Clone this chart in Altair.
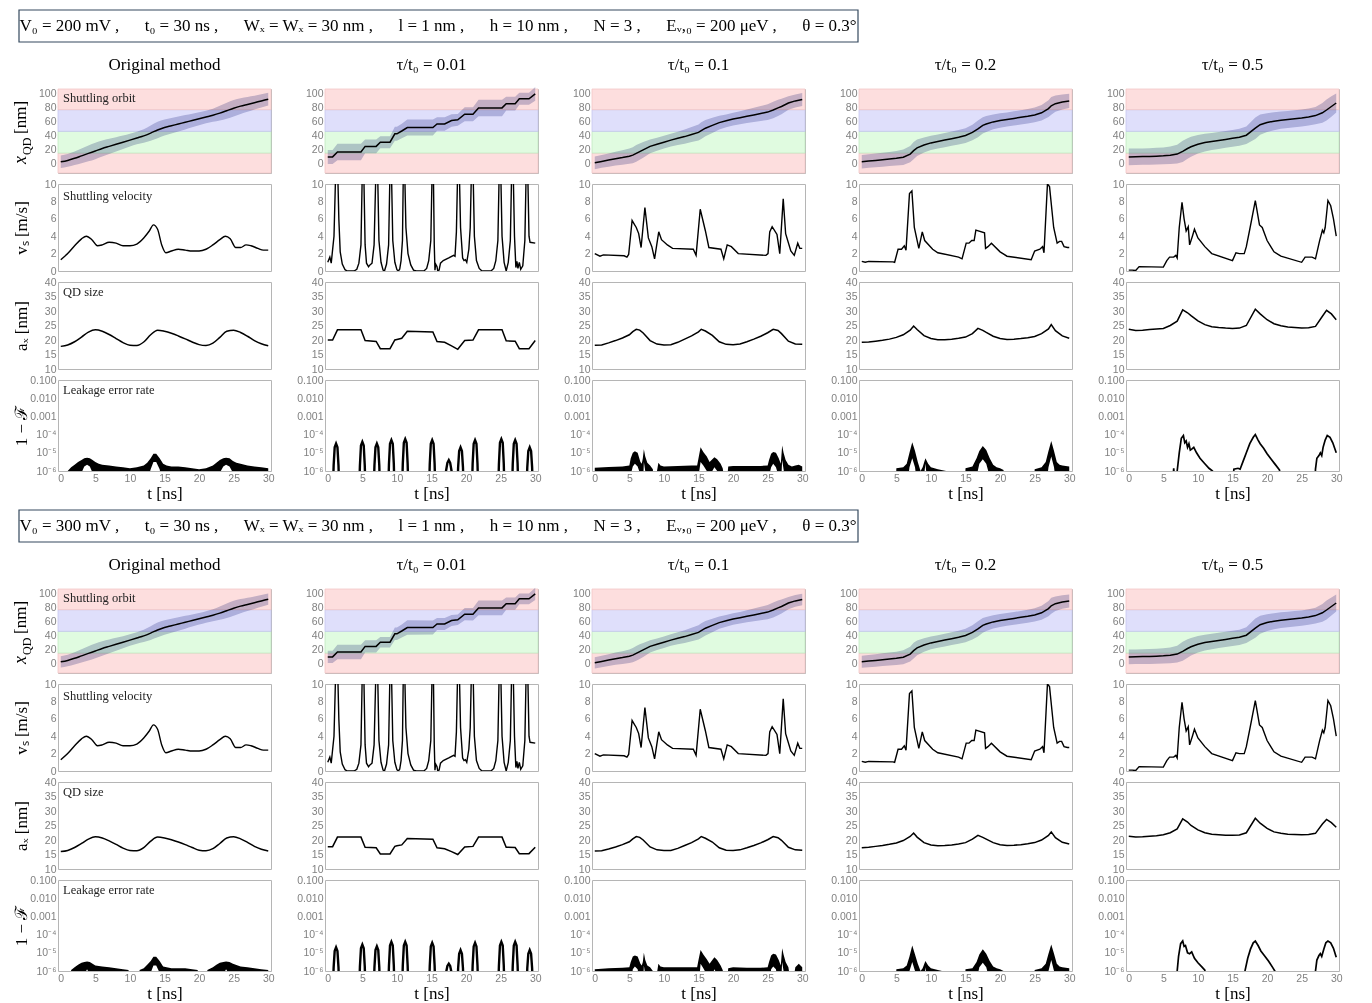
import altair as alt
import pandas as pd

SERIF = "Liberation Serif"
SANS = "Liberation Sans"
W = 213
H_ORB, H_VEL, H_QD, H_LK = 84, 87, 87, 91
T_DOM = [-0.4, 30.4]
T_TICKS = [0, 5, 10, 15, 20, 25, 30]

COL_TITLES = ["Original method", "τ/t₀ = 0.01", "τ/t₀ = 0.1", "τ/t₀ = 0.2", "τ/t₀ = 0.5"]
V0_VALUES = [200, 300]
SEP = " ,\u2003\u2002"

# dot regions of the shuttling orbit panel
REG_LO = [-13, 15.5, 46.5, 77.5]
REG_HI = [15.5, 46.5, 77.5, 107]
REG_FILL = ["#fddede", "#e0fbe0", "#dfdffb", "#fddede"]
REG_EDGE = ["#f2c6c6", "#c2eac2", "#c6c6f0", "#f2c6c6"]

# ---------------- column 1 : original method ----------------
T_C1 = [0, 1, 2, 3, 4, 5, 6, 7, 8, 9, 10, 11, 12, 13, 14, 15, 16, 17, 18, 19, 20,
        21, 22, 23, 24, 25, 26, 27, 28, 29, 30]
ORB_C1 = [3, 5, 8, 11.5, 15, 18.5, 22, 25, 28, 31, 34, 37, 40, 44, 48.5, 52, 54.5, 57,
          59.5, 62, 64.5, 67, 69.5, 72.5, 76, 79.5, 82.5, 85, 87.5, 90, 92.5]
QD_TOP_C1 = [17.8, 18.3, 19.4, 21.0, 22.7, 23.5, 23.0, 21.9, 20.5, 19.1, 18.2, 18.1, 19.3,
             21.8, 23.4, 23.0, 22.3, 21.4, 20.4, 19.3, 18.4, 18.1, 18.9, 20.9, 23.0, 23.4,
             22.6, 21.3, 19.8, 18.7, 18.0]
QD_BOT_C1 = [16.0, 16.4, 17.4, 18.8, 20.3, 21.1, 20.7, 19.7, 18.5, 17.2, 16.4, 16.3, 17.4,
             19.6, 21.0, 20.7, 20.1, 19.3, 18.4, 17.4, 16.5, 16.3, 17.0, 18.8, 20.7, 21.1,
             20.4, 19.2, 17.8, 16.8, 16.2]
VEL_T1 = [0, 1, 2, 3, 3.7, 4.5, 5.3, 6, 7, 8, 9, 10, 11, 12, 12.8, 13.4, 14, 14.6, 15.2, 16,
          17, 18, 19, 20, 21, 22, 23, 23.8, 24.5, 25.3, 26, 26.8, 27.5, 28.5, 29.3, 30]
VEL_V1 = [1.3, 2.0, 2.9, 3.7, 4.0, 3.6, 2.9, 3.0, 3.3, 3.2, 2.9, 2.9, 3.1, 3.8, 4.6, 5.3, 4.8,
          3.0, 2.1, 2.3, 2.5, 2.4, 2.3, 2.3, 2.5, 3.0, 3.6, 4.0, 3.7, 2.7, 2.7, 3.0, 2.9, 2.6,
          2.4, 2.4]

# ---------------- column 2 : tau/t0 = 0.01 ----------------
T_C2 = [0, 0.7, 1.4, 4.8, 5.4, 7.0, 7.6, 9.0, 9.7, 10.0, 10.7, 11.5, 15.2, 15.8, 16.9, 17.9,
        18.8, 19.8, 21.0, 21.8, 25.2, 25.8, 27.1, 27.7, 29.1, 30.0]
ORB_C2 = [10, 10, 17, 17, 25, 25, 31, 31, 43, 43, 47, 52, 52, 57, 57, 62, 63, 71, 71, 80, 80,
          86, 86, 93, 93, 100]
QD_TOP_C2 = [20.0, 20.0, 23.5, 23.5, 19.8, 19.5, 17.0, 17.0, 20.0, 20.2, 20.6, 23.0, 22.8,
             19.5, 19.2, 18.0, 16.8, 19.8, 20.0, 23.5, 23.5, 19.7, 19.6, 17.0, 17.0, 19.8]
QD_BOT_C2 = [17.7, 17.7, 21.0, 21.0, 17.5, 17.3, 15.2, 15.2, 17.8, 18.0, 18.3, 20.5, 20.3,
             17.3, 17.0, 16.0, 15.0, 17.6, 17.8, 21.0, 21.0, 17.5, 17.4, 15.3, 15.3, 17.5]
VEL_T2 = [0, 0.3, 0.5, 0.9, 1.3,
          1.6, 1.8, 2.1, 2.5, 2.8, 3.8, 4.2, 4.5, 4.8, 5.1,
          5.4, 5.6, 5.9, 6.1, 6.4, 6.7, 7.1,
          7.4, 7.7, 8.0, 8.2, 8.5, 8.8, 9.1,
          9.4, 9.7, 10.0, 10.2, 10.4, 10.6, 10.8, 11.0,
          11.3, 11.6, 12.0, 12.4, 12.8, 13.9, 14.3, 14.6, 14.9, 15.2,
          15.4, 15.5, 15.6, 15.8, 15.9, 16.1, 16.3, 16.7, 17.5, 18.2, 18.4, 18.6, 18.9,
          19.2, 19.5, 19.7, 19.9, 20.1, 20.4, 20.6, 20.9,
          21.2, 21.5, 21.9, 22.3, 23.6, 24.0, 24.3, 24.6, 24.9,
          25.2, 25.5, 25.8, 26.1, 26.4, 26.7,
          27.0, 27.2, 27.35, 27.5, 27.7, 27.9, 28.2, 28.5, 28.8,
          29.1, 29.25, 30.0]
VEL_V2 = [1.0, 1.6, 0.9, 4.0, 16,
          6, 2.2, 0.8, 0.15, 0.0, 0.0, 0.2, 0.9, 3.0, 16,
          3.0, 0.9, 0.5, 0.7, 0.9, 3.0, 16,
          3.5, 1.0, 0.1, 0.0, 0.8, 3.0, 16,
          3.5, 1.0, 0.15, 0.0, 0.2, 1.2, 3.5, 16,
          5, 2.0, 0.7, 0.1, 0.0, 0.0, 0.3, 1.2, 3.5, 16,
          3, 0.1, 0.8, 0.5, 0.0, 0.1, 0.9, 1.2, 1.5, 1.8, 1.7, 4.5, 16,
          5, 1.5, 1.2, 1.3, 1.0, 2.5, 5, 16,
          4, 1.2, 0.3, 0.0, 0.0, 0.3, 1.2, 3.5, 16,
          4, 1.0, 0.0, 1.0, 3.5, 16,
          4, 0.4, 1.1, 0.3, 1.0, 0.2, 0.6, 3.5, 16,
          4, 3.3, 3.2]

# ---------------- column 3 : tau/t0 = 0.1 ----------------
T_C3 = [0, 1, 2, 3, 4, 5, 5.5, 6, 6.5, 7, 8, 9, 10, 11, 12, 13, 14, 15, 15.4, 16, 17, 18,
        19, 20, 21, 22, 23, 24, 25, 25.8, 26.5, 27, 28, 29, 30]
ORB_C3 = [1.5, 3.5, 5.5, 7.5, 9, 11, 12.5, 15, 17.5, 20, 25, 28, 31, 34, 36.5, 39, 42, 45,
          47.5, 51, 55, 59, 61.5, 64, 66, 68, 70, 72, 74, 77, 80, 82, 87, 90, 92]
QD_TOP_C3 = [18.2, 18.3, 19.0, 19.8, 20.7, 21.8, 22.9, 23.7, 23.4, 22.4, 19.8, 18.6, 18.3,
             18.4, 19.2, 20.3, 21.4, 22.8, 23.7, 23.1, 21.6, 19.4, 18.5, 18.4, 18.6, 19.4,
             20.3, 21.3, 22.5, 23.7, 23.3, 22.2, 19.6, 18.6, 18.5]
QD_BOT_C3 = [16.2, 16.3, 16.9, 17.6, 18.4, 19.4, 20.4, 21.2, 20.9, 20.0, 17.6, 16.6, 16.4,
             16.4, 17.1, 18.1, 19.1, 20.4, 21.2, 20.6, 19.3, 17.3, 16.5, 16.4, 16.6, 17.3,
             18.1, 19.0, 20.1, 21.2, 20.8, 19.9, 17.5, 16.6, 16.5]
VEL_T3 = [0, 0.75, 1.25, 4.25, 4.65, 4.9, 5.4, 6.0, 6.35, 6.7, 7.25, 7.75, 8.25, 8.65, 9.25,
          9.65, 10.5, 11.25, 14.25, 14.65, 15.25, 16.0, 16.5, 18.25, 18.65, 19.15, 19.75,
          20.75, 24.75, 25.05, 25.3, 25.65, 26.35, 26.75, 27.25, 27.6, 28.35, 28.85, 29.35,
          29.65, 30]
VEL_V3 = [2.0, 1.7, 1.85, 1.75, 1.6, 1.9, 5.8, 5.0, 4.3, 2.7, 7.3, 3.8, 2.8, 1.4, 4.5, 3.6,
          3.0, 2.6, 2.5, 1.8, 7.1, 4.6, 2.7, 2.5, 1.4, 3.0, 2.8, 2.0, 1.8, 2.0, 4.5, 5.1, 4.2,
          2.0, 8.3, 4.3, 2.3, 1.8, 3.2, 2.6, 2.6]

# ---------------- column 4 : tau/t0 = 0.2 ----------------
T_C4 = [0, 1, 2, 3, 4, 5, 6, 7, 7.5, 8, 9, 10, 11, 12, 13, 14, 15, 16, 16.8, 17.5, 18, 19,
        20, 21, 22, 23, 24, 25, 26, 27, 27.4, 28, 29, 30]
ORB_C4 = [3, 4, 5, 6, 7, 8, 9.5, 14, 19, 23, 27, 30, 32, 34, 36, 38, 40.5, 45, 50, 55, 57, 60,
          62, 63.5, 65, 66.5, 68, 70, 73, 79, 83, 86, 88.5, 90]
QD_TOP_C4 = [19.2, 19.3, 19.6, 19.9, 20.3, 20.9, 21.8, 23.4, 24.8, 23.6, 21.5, 20.5, 20.1,
             20.1, 20.3, 20.6, 21.0, 22.2, 24.0, 23.3, 22.6, 21.3, 20.5, 20.2, 20.3, 20.5,
             20.8, 21.2, 22.2, 23.8, 25.3, 23.2, 21.4, 20.6]
QD_BOT_C4 = [17.3, 17.5, 17.8, 18.1, 18.5, 19.0, 19.8, 21.2, 22.4, 21.0, 19.1, 18.3, 18.0,
             18.1, 18.3, 18.6, 19.1, 20.3, 21.6, 20.9, 20.3, 19.1, 18.4, 18.1, 18.2, 18.4,
             18.7, 19.1, 20.0, 21.6, 22.8, 20.8, 19.2, 18.6]
VEL_T4 = [0, 0.5, 1, 4.5, 4.75, 5.25, 5.75, 6.15, 6.4, 6.9, 7.25, 7.6, 8.25, 8.75, 9.1, 10.25,
          11, 14, 14.5, 15.1, 15.5, 15.9, 16.25, 16.5, 17.75, 17.9, 18.25, 18.75, 20, 21,
          24.5, 25, 25.75, 26.15, 26.35, 26.85, 27.15, 27.75, 28.25, 28.6, 28.9, 29.25, 29.75,
          30]
VEL_V4 = [1.1, 1.0, 1.1, 1.05, 1.0, 2.5, 2.5, 2.9, 2.4, 8.9, 9.2, 5.0, 2.6, 4.5, 3.5, 2.5,
          2.1, 1.6, 1.4, 3.2, 3.2, 3.5, 3.5, 4.7, 4.4, 2.6, 2.8, 3.2, 2.2, 1.7, 1.3, 2.3, 2.5,
          2.8, 2.1, 10.0, 9.7, 5.0, 3.2, 3.4, 3.4, 2.8, 2.7, 2.7]

# ---------------- column 5 : tau/t0 = 0.5 ----------------
T_C5 = [0, 1, 2, 3, 4, 5, 6, 7, 7.8, 8.5, 9, 10, 11, 12, 13, 14, 15, 16, 17, 18.3, 19, 20,
        21, 22, 23, 24, 25, 26, 27, 28, 28.6, 29.3, 30]
ORB_C5 = [10, 10.2, 10.4, 10.6, 11, 11.5, 12.3, 14, 18, 22, 24.5, 28, 30.5, 32, 33.5, 35,
          36.5, 38, 41, 51, 56, 59, 61, 62.5, 63.5, 64.5, 65.5, 67, 69, 73, 77, 82, 87]
QD_TOP_C5 = [23.7, 23.3, 23.4, 23.6, 23.8, 24.0, 25.0, 26.5, 30.4, 29.4, 28.4, 26.6, 25.3,
             24.6, 24.3, 24.1, 24.0, 24.1, 25.0, 30.6, 29.0, 27.0, 25.6, 24.9, 24.5, 24.3,
             24.1, 24.2, 24.7, 28.2, 30.2, 29.0, 27.0]
QD_BOT_C5 = [21.3, 21.0, 21.1, 21.3, 21.5, 21.8, 22.5, 23.8, 27.3, 26.2, 25.0, 23.5, 22.5,
             22.0, 21.8, 21.6, 21.6, 21.7, 22.5, 27.5, 25.8, 24.0, 22.8, 22.3, 22.0, 21.9,
             21.8, 21.9, 22.3, 25.5, 27.1, 26.0, 24.4]
VEL_T5 = [0, 0.5, 1, 1.5, 5, 5.5, 5.9, 6.5, 6.8, 7.0, 7.3, 7.7, 8.0, 8.3, 8.6, 8.8, 9.2, 9.5,
          10, 11, 12, 15, 15.5, 16, 16.7, 17, 17.5, 18.3, 18.9, 19.3, 20, 21, 22, 25, 25.5,
          26.5, 27, 27.6, 28, 28.2, 28.4, 28.8, 29.2, 29.6, 30]
VEL_V5 = [0.1, 0.1, 0.05, 0.5, 0.45, 1.2, 1.6, 1.6, 1.8, 1.5, 5.0, 7.9, 6.0, 4.6, 5.1, 3.0,
          4.0, 4.8, 3.8, 2.8, 2.0, 1.2, 2.1, 2.0, 2.0, 2.8, 4.8, 8.1, 5.3, 5.0, 3.5, 2.2, 1.7,
          1.0, 1.6, 1.6, 1.4, 3.5, 4.7, 4.4, 5.0, 8.1, 7.5, 6.0, 4.0]

# ---------------- leakage error rate (log10 of 1-F; -7 = below the axis) ----------------
LK1_T_TOP = [0.9, 1.0, 1.5, 2.0, 2.5, 3.0, 3.4, 3.8, 4.2, 4.6, 5.0, 5.5, 6, 7, 8, 9, 10, 11,
             12, 12.5, 13.0, 13.4, 13.8, 14.3, 14.8, 15.3, 16, 17, 18, 19, 20, 21, 22, 22.5,
             23, 23.5, 23.9, 24.4, 24.9, 25.4, 26, 27, 28, 29, 30]
LK1_HI_TOP = [-7, -6.0, -5.8, -5.65, -5.5, -5.4, -5.3, -5.27, -5.3, -5.4, -5.5, -5.6, -5.65,
              -5.7, -5.75, -5.8, -5.85, -5.8, -5.7, -5.55, -5.3, -5.05, -5.05, -5.3, -5.6,
              -5.7, -5.75, -5.75, -5.8, -5.85, -5.9, -5.85, -5.7, -5.55, -5.4, -5.3, -5.27,
              -5.3, -5.45, -5.55, -5.6, -5.7, -5.75, -5.8, -5.85]
LK1_LO_TOP = [-7, -7, -7, -7, -6.6, -6.1, -5.75, -5.65, -5.75, -6.1, -7, -7, -7, -7, -7, -7,
              -7, -7, -7, -6.6, -5.9, -5.5, -5.5, -5.9, -7, -7, -7, -7, -7, -7, -7, -7, -7,
              -6.6, -6.1, -5.75, -5.65, -5.75, -6.1, -7, -7, -7, -7, -7, -7]
LK1_T_BOT = [1.2, 1.5, 2.0, 2.5, 3.0, 3.4, 3.8, 4.2, 4.6, 5.0, 6, 7, 8, 9, 9.8, 10.0, 11.2,
             11.4, 12, 12.5, 13.0, 13.4, 13.8, 14.3, 14.8, 16, 17, 18, 19, 19.8, 20.0, 21.0,
             21.2, 22, 22.5, 23.0, 23.5, 23.9, 24.4, 24.9, 26, 27, 28, 29, 30]
LK1_HI_BOT = [-7, -5.95, -5.8, -5.65, -5.55, -5.5, -5.48, -5.5, -5.6, -5.7, -5.75, -5.8,
              -5.85, -5.9, -5.95, -7, -7, -5.95, -5.85, -5.65, -5.45, -5.22, -5.22, -5.45,
              -5.75, -5.85, -5.85, -5.85, -5.9, -5.95, -7, -7, -5.95, -5.8, -5.65, -5.55,
              -5.5, -5.48, -5.5, -5.6, -5.75, -5.8, -5.85, -5.9, -5.95]
LK1_LO_BOT = [-7, -7, -7, -7, -7, -6.2, -5.9, -6.2, -7, -7, -7, -7, -7, -7, -7, -7, -7, -7,
              -7, -7, -6.1, -5.7, -5.7, -6.1, -7, -7, -7, -7, -7, -7, -7, -7, -7, -7, -7, -7,
              -6.2, -5.9, -6.2, -7, -7, -7, -7, -7, -7]

LK2_T = [0.75, 0.85, 1.0, 1.2, 1.4, 1.55, 1.65,
         4.55, 4.65, 4.8, 5.0, 5.2, 5.35, 5.45,
         6.65, 6.75, 6.9, 7.1, 7.3, 7.45, 7.55,
         8.75, 8.85, 9.0, 9.2, 9.4, 9.55, 9.65,
         10.75, 10.85, 11.0, 11.2, 11.4, 11.55, 11.65,
         14.65, 14.75, 14.9, 15.1, 15.3, 15.45, 15.55,
         16.9, 17.1, 17.3, 17.5, 17.7, 17.9, 18.1,
         18.75, 18.85, 19.0, 19.2, 19.4, 19.55, 19.65,
         20.85, 20.95, 21.1, 21.3, 21.5, 21.65, 21.75,
         24.65, 24.75, 24.9, 25.1, 25.3, 25.45, 25.55,
         26.65, 26.75, 26.9, 27.1, 27.3, 27.45, 27.55,
         28.75, 28.85, 29.0, 29.2, 29.4, 29.55, 29.65]
LK2_V_TOP = [-7, -5.7, -4.7, -4.5, -4.7, -5.7, -7,
             -7, -5.7, -4.6, -4.4, -4.6, -5.7, -7,
             -7, -5.7, -4.7, -4.5, -4.7, -5.7, -7,
             -7, -5.6, -4.5, -4.3, -4.5, -5.6, -7,
             -7, -5.6, -4.45, -4.25, -4.45, -5.6, -7,
             -7, -5.6, -4.5, -4.3, -4.5, -5.6, -7,
             -7, -6.0, -5.55, -5.4, -5.55, -6.0, -7,
             -7, -5.8, -4.9, -4.7, -4.9, -5.8, -7,
             -7, -5.6, -4.5, -4.3, -4.5, -5.6, -7,
             -7, -5.6, -4.45, -4.25, -4.45, -5.6, -7,
             -7, -5.6, -4.5, -4.3, -4.5, -5.6, -7,
             -7, -5.8, -4.9, -4.7, -4.9, -5.8, -7]
LK2_V_BOT = [-7, -5.8, -4.9, -4.7, -4.9, -5.8, -7,
             -7, -5.75, -4.75, -4.55, -4.75, -5.75, -7,
             -7, -5.8, -4.85, -4.65, -4.85, -5.8, -7,
             -7, -5.7, -4.6, -4.4, -4.6, -5.7, -7,
             -7, -5.7, -4.6, -4.4, -4.6, -5.7, -7,
             -7, -5.7, -4.65, -4.45, -4.65, -5.7, -7,
             -7, -6.1, -5.72, -5.6, -5.72, -6.1, -7,
             -7, -5.85, -5.05, -4.85, -5.05, -5.85, -7,
             -7, -5.7, -4.65, -4.45, -4.65, -5.7, -7,
             -7, -5.7, -4.6, -4.4, -4.6, -5.7, -7,
             -7, -5.7, -4.6, -4.4, -4.6, -5.7, -7,
             -7, -5.85, -5.05, -4.85, -5.05, -5.85, -7]

LK3_T = [0.0, 2.0, 4.0, 5.0, 5.2, 5.5, 5.8, 6.2, 6.6, 6.8, 6.95, 7.1, 7.3, 7.6, 8.0, 8.4,
         8.6, 9.0, 9.2, 9.5, 10, 12, 14, 14.8, 15.0, 15.3, 15.7, 16.2, 16.6, 17.0, 17.3,
         17.7, 18.2, 18.5, 19.0, 19.3, 20, 22, 24, 25.0, 25.2, 25.5, 25.8, 26.2, 26.6, 26.9,
         27.1, 27.3, 27.6, 28, 28.5, 29, 29.5, 30]
LK3_HI_TOP = [-5.82, -5.78, -5.75, -5.7, -5.3, -5.0, -4.92, -5.0, -5.5, -5.6, -5.3, -4.8,
              -5.2, -5.55, -5.7, -5.9, -7, -6.0, -5.55, -5.7, -5.75, -5.72, -5.7, -5.7,
              -5.3, -4.7, -4.95, -5.2, -5.5, -5.35, -5.25, -5.35, -5.6, -5.85, -7, -5.75,
              -5.72, -5.72, -5.72, -5.7, -5.4, -5.05, -4.95, -5.0, -5.3, -5.6, -4.6, -5.0,
              -5.4, -5.65, -5.75, -5.7, -5.65, -5.75]
LK3_LO_TOP = [-7, -7, -7, -7, -6.2, -5.75, -5.6, -5.75, -6.2, -7, -7, -5.5, -6.0, -7, -7,
              -7, -7, -7, -7, -7, -7, -7, -7, -7, -6.3, -5.5, -5.7, -6.0, -7, -6.0, -5.8,
              -6.0, -7, -7, -7, -7, -7, -7, -7, -7, -6.3, -5.8, -5.6, -5.8, -6.3, -7, -5.4,
              -5.9, -7, -7, -7, -7, -7, -7]
LK3_HI_BOT = [-5.9, -5.85, -5.82, -5.8, -5.5, -5.2, -5.15, -5.2, -5.6, -5.7, -5.5, -5.0,
              -5.4, -5.7, -5.8, -6.0, -7, -6.1, -5.6, -5.75, -5.8, -5.8, -5.8, -5.8, -5.4,
              -4.85, -5.1, -5.35, -5.6, -5.4, -5.25, -5.4, -5.7, -5.95, -7, -5.85, -5.8,
              -5.82, -5.82, -5.8, -5.5, -5.15, -5.05, -5.1, -5.4, -5.7, -4.75, -5.1, -5.5,
              -5.8, -7, -5.8, -5.6, -5.8]
LK3_LO_BOT = [-7, -7, -7, -7, -7, -5.9, -5.75, -5.9, -7, -7, -7, -5.7, -6.2, -7, -7, -7,
              -7, -7, -7, -7, -7, -7, -7, -7, -7, -5.6, -5.85, -6.2, -7, -6.2, -5.9, -6.2,
              -7, -7, -7, -7, -7, -7, -7, -7, -7, -5.9, -5.75, -5.9, -7, -7, -5.5, -6.0, -7,
              -7, -7, -7, -7, -7]

LK4_T = [4.9, 5.0, 6.0, 6.5, 6.9, 7.3, 7.7, 8.1, 8.5, 8.8, 9.2, 9.6, 10, 11, 12.2, 12.4,
         14.9, 15.0, 16.0, 16.6, 17.0, 17.5, 18.0, 18.5, 19.0, 19.5, 20.0, 20.5, 20.7, 24.9,
         25.0, 26.0, 26.6, 27.0, 27.4, 27.8, 28.2, 28.6, 29, 30]
LK4_HI_TOP = [-7, -5.85, -5.8, -5.6, -5.0, -4.42, -4.9, -5.5, -6.0, -5.8, -5.3, -5.6, -5.8,
              -5.9, -6.0, -7, -7, -5.85, -5.75, -5.3, -4.9, -4.62, -4.85, -5.3, -5.65, -5.8,
              -5.85, -5.95, -7, -7, -5.9, -5.8, -5.5, -4.9, -4.35, -4.9, -5.5, -5.65, -5.7,
              -5.75]
LK4_LO_TOP = [-7, -7, -7, -7, -5.8, -5.3, -5.8, -7, -7, -7, -5.6, -7, -7, -7, -7, -7, -7,
              -7, -7, -6.3, -5.6, -5.35, -5.6, -6.3, -7, -7, -7, -7, -7, -7, -7, -7, -7,
              -5.8, -5.2, -5.8, -7, -7, -7, -7]
LK4_HI_BOT = [-7, -5.9, -5.85, -5.7, -5.2, -4.6, -5.1, -5.6, -6.0, -5.85, -5.45, -5.7,
              -5.85, -5.95, -6.05, -7, -7, -5.9, -5.85, -5.5, -5.1, -4.8, -5.05, -5.45,
              -5.75, -5.85, -5.9, -6.0, -7, -7, -5.95, -5.85, -5.6, -5.05, -4.55, -5.05,
              -5.6, -5.75, -5.8, -5.85]
LK4_LO_BOT = [-7, -7, -7, -7, -6.0, -5.5, -6.0, -7, -7, -7, -5.8, -7, -7, -7, -7, -7, -7,
              -7, -7, -6.5, -5.8, -5.55, -5.8, -6.5, -7, -7, -7, -7, -7, -7, -7, -7, -7,
              -6.0, -5.4, -6.0, -7, -7, -7, -7]

LK5_T_TOP = [6.3, 6.5, 6.7, 7.0, 7.3, 7.6, 7.9, 8.1, 8.3, 8.5, 8.7, 8.9, 9.1, 9.4, 9.8,
             10.3, 11.0, 11.6, 12.1, 12.3, 15.0, 15.2, 15.8, 16.1, 16.5, 17.0, 17.5, 18.0,
             18.3, 18.7, 19.0, 19.5, 20.0, 20.6, 21.2, 21.8, 22.0, 26.9, 27.0, 27.2, 27.5,
             27.7, 27.9, 28.1, 28.4, 28.7, 29.1, 29.5, 30.0]
LK5_V_TOP = [-7, -5.85, -7, -6.0, -5.0, -4.2, -4.05, -4.45, -4.35, -4.7, -4.5, -4.85, -4.8,
             -4.7, -5.0, -5.3, -5.6, -5.85, -6.0, -7, -7, -5.9, -5.85, -5.9, -5.5, -5.0,
             -4.5, -4.15, -4.0, -4.3, -4.5, -4.75, -5.05, -5.35, -5.65, -5.95, -7, -7, -5.9,
             -5.3, -5.15, -5.0, -5.15, -4.7, -4.3, -4.05, -4.15, -4.45, -5.0]
LK5_T_BOT = [6.9, 7.0, 7.2, 7.5, 7.8, 8.0, 8.2, 8.5, 8.8, 9.1, 9.5, 10.0, 10.5, 11.0, 11.2,
             16.6, 16.8, 17.2, 17.6, 18.0, 18.3, 18.7, 19.1, 19.6, 20.2, 20.8, 21.2, 26.9,
             27.0, 27.2, 27.5, 27.7, 27.9, 28.2, 28.5, 28.8, 29.2, 29.6, 30.0]
LK5_V_BOT = [-7, -6.0, -5.2, -4.5, -4.35, -4.65, -4.6, -5.0, -5.05, -4.95, -5.3, -5.55,
             -5.75, -5.95, -7, -7, -6.0, -5.3, -4.8, -4.45, -4.35, -4.6, -4.9, -5.15, -5.45,
             -5.8, -6.05, -7, -6.0, -5.4, -5.15, -5.05, -5.2, -4.8, -4.45, -4.35, -4.45,
             -4.75, -5.25]

ORB_T = [T_C1, T_C2, T_C3, T_C4, T_C5]
ORB_X = [ORB_C1, ORB_C2, ORB_C3, ORB_C4, ORB_C5]
QD_A = [[QD_TOP_C1, QD_TOP_C2, QD_TOP_C3, QD_TOP_C4, QD_TOP_C5],
        [QD_BOT_C1, QD_BOT_C2, QD_BOT_C3, QD_BOT_C4, QD_BOT_C5]]
VEL_T = [VEL_T1, VEL_T2, VEL_T3, VEL_T4, VEL_T5]
VEL_V = [VEL_V1, VEL_V2, VEL_V3, VEL_V4, VEL_V5]
LK_BAND = [
    [(LK1_T_TOP, LK1_LO_TOP, LK1_HI_TOP), None, (LK3_T, LK3_LO_TOP, LK3_HI_TOP),
     (LK4_T, LK4_LO_TOP, LK4_HI_TOP), None],
    [(LK1_T_BOT, LK1_LO_BOT, LK1_HI_BOT), None, (LK3_T, LK3_LO_BOT, LK3_HI_BOT),
     (LK4_T, LK4_LO_BOT, LK4_HI_BOT), None],
]
LK_LINE = [
    [None, (LK2_T, LK2_V_TOP), None, None, (LK5_T_TOP, LK5_V_TOP)],
    [None, (LK2_T, LK2_V_BOT), None, None, (LK5_T_BOT, LK5_V_BOT)],
]
LK_LINE_W = [0, 2.4, 0, 0, 1.7]

reg_df = pd.DataFrame({"lo": REG_LO, "hi": REG_HI, "fill": REG_FILL, "edge": REG_EDGE})


def xenc(show):
    scale = alt.Scale(domain=T_DOM, nice=False, zero=False)
    if show:
        ax = alt.Axis(values=T_TICKS, title="t [ns]", format="d", labelPadding=2,
                      titlePadding=2)
        return alt.X("t:Q", scale=scale, axis=ax)
    return alt.X("t:Q", scale=scale, axis=None)


def yaxis(c, values, title=None, label_expr=None):
    kw = dict(values=values, labelPadding=2)
    if label_expr:
        kw["labelExpr"] = label_expr
    if c == 0:
        kw.update(minExtent=24, maxExtent=24, titlePadding=4)
    kw["title"] = title if (c == 0 and title) else None
    return alt.Axis(**kw)


def note(text, y):
    return alt.Chart(pd.DataFrame({"s": [text]})).mark_text(
        align="left", baseline="middle", font=SERIF, fontSize=12.5, color="#222222"
    ).encode(text="s:N", x=alt.value(5), y=alt.value(y))


def col_title(text):
    return alt.Chart(pd.DataFrame({"s": [text]})).mark_text(
        align="center", baseline="middle", font=SERIF, fontSize=17, color="black"
    ).encode(text="s:N", x=alt.value(W / 2), y=alt.value(-24))


def rot_text(text, x, y, size, style="normal"):
    return alt.Chart(pd.DataFrame({"s": [text]})).mark_text(
        angle=270, align="left", baseline="bottom", font=SERIF, fontSize=size,
        fontStyle=style, color="black"
    ).encode(text="s:N", x=alt.value(x), y=alt.value(y))


def header_layers(b):
    txt = (f"V₀ = {V0_VALUES[b]} mV{SEP}t₀ = 30 ns{SEP}Wₓ = Wₓ = 30 nm{SEP}l = 1 nm{SEP}"
           f"h = 10 nm{SEP}N = 3{SEP}Eᵥ,₀ = 200 μeV{SEP}θ = 0.3°")
    hdf = pd.DataFrame({"s": [txt]})
    box = alt.Chart(hdf).mark_rect(fill="white", stroke="#34495e", strokeWidth=1.2).encode(
        x=alt.value(-39), x2=alt.value(800), y=alt.value(-79), y2=alt.value(-47))
    lab = alt.Chart(hdf).mark_text(font=SERIF, fontSize=17, color="black", align="center",
                                   baseline="middle").encode(
        text="s:N", x=alt.value(380), y=alt.value(-63))
    return [box, lab]


def orbit_panel(b, c):
    df = pd.DataFrame({"t": ORB_T[c], "x": ORB_X[c], "a": QD_A[b][c]})
    ys = alt.Scale(domain=[-13, 107], nice=False, zero=False)
    ax = yaxis(c, [0, 20, 40, 60, 80, 100])
    interp = "monotone" if c == 0 else "linear"
    reg = alt.Chart(reg_df).mark_rect(strokeWidth=0.8).encode(
        x=alt.value(0), x2=alt.value(W),
        y=alt.Y("lo:Q", scale=ys, axis=ax), y2="hi:Q",
        fill=alt.Fill("fill:N", scale=None), stroke=alt.Stroke("edge:N", scale=None))
    band = alt.Chart(df).transform_calculate(
        blo="datum.x - datum.a / 2", bhi="datum.x + datum.a / 2"
    ).mark_area(color="#c6c8e0", blend="multiply", interpolate=interp).encode(
        x=xenc(False), y=alt.Y("blo:Q", scale=ys, axis=ax), y2="bhi:Q")
    line = alt.Chart(df).mark_line(color="black", strokeWidth=1.5, interpolate=interp).encode(
        x=xenc(False), y=alt.Y("x:Q", scale=ys, axis=ax))
    layers = [reg, band, line, col_title(COL_TITLES[c])]
    if c == 0:
        layers += [note("Shuttling orbit", 9),
                   rot_text("x", -28, 75, 18, "italic"),
                   rot_text("QD", -24, 66, 12),
                   rot_text("[nm]", -28, 45, 17)]
        layers += header_layers(b)
    return alt.layer(*layers).properties(width=W, height=H_ORB)


def vel_panel(b, c):
    df = pd.DataFrame({"t": VEL_T[c], "v": VEL_V[c]})
    ys = alt.Scale(domain=[0, 10], nice=False, zero=False)
    ax = yaxis(c, [0, 2, 4, 6, 8, 10], "vₛ [m/s]")
    interp = "monotone" if c == 0 else "linear"
    line = alt.Chart(df).mark_line(color="black", strokeWidth=1.4, clip=True,
                                   interpolate=interp).encode(
        x=xenc(False), y=alt.Y("v:Q", scale=ys, axis=ax))
    layers = [line]
    if c == 0:
        layers.append(note("Shuttling velocity", 12))
    return alt.layer(*layers).properties(width=W, height=H_VEL)


def qd_panel(b, c):
    df = pd.DataFrame({"t": ORB_T[c], "a": QD_A[b][c]})
    ys = alt.Scale(domain=[10, 40], nice=False, zero=False)
    ax = yaxis(c, [10, 15, 20, 25, 30, 35, 40], "aₓ [nm]")
    interp = "monotone" if c == 0 else "linear"
    line = alt.Chart(df).mark_line(color="black", strokeWidth=1.5, clip=True,
                                   interpolate=interp).encode(
        x=xenc(False), y=alt.Y("a:Q", scale=ys, axis=ax))
    layers = [line]
    if c == 0:
        layers.append(note("QD size", 10))
    return alt.layer(*layers).properties(width=W, height=H_QD)


LOG_LABELS = ("datum.value >= 0.0009 ? format(datum.value, '.3f') : "
              "(datum.value > 0.00005 ? '10⁻⁴' : (datum.value > 0.000005 ? '10⁻⁵' : '10⁻⁶'))")


def leak_panel(b, c):
    ys = alt.Scale(type="log", domain=[1e-6, 0.1], nice=False)
    ax = yaxis(c, [1e-6, 1e-5, 1e-4, 1e-3, 1e-2, 1e-1], "1 − ℱ", LOG_LABELS)
    layers = []
    band = LK_BAND[b][c]
    if band:
        t, lo, hi = band
        df = pd.DataFrame({"t": t, "lo": [10 ** v for v in lo], "hi": [10 ** v for v in hi]})
        layers.append(alt.Chart(df).mark_area(color="black", clip=True).encode(
            x=xenc(True), y=alt.Y("hi:Q", scale=ys, axis=ax), y2="lo:Q"))
    ln = LK_LINE[b][c]
    if ln:
        t, v = ln
        df = pd.DataFrame({"t": t, "v": [10 ** x for x in v]})
        layers.append(alt.Chart(df).mark_line(color="black", strokeWidth=LK_LINE_W[c],
                                              clip=True).encode(
            x=xenc(True), y=alt.Y("v:Q", scale=ys, axis=ax)))
    if c == 0:
        layers.append(note("Leakage error rate", 10))
    return alt.layer(*layers).properties(width=W, height=H_LK)


def spacer():
    return alt.Chart(pd.DataFrame({"s": [0]})).mark_point(opacity=0).encode(
        x=alt.value(0), y=alt.value(0)
    ).properties(width=W, height=96, view=alt.ViewBackground(strokeOpacity=0))


panels = []
for b in (0, 1):
    panels += [orbit_panel(b, c) for c in range(5)]
    panels += [vel_panel(b, c) for c in range(5)]
    panels += [qd_panel(b, c) for c in range(5)]
    panels += [leak_panel(b, c) for c in range(5)]
    if b == 0:
        panels += [spacer() for _ in range(5)]

chart = alt.concat(
    *panels, columns=5, spacing={"row": 11, "column": 54}, bounds="flush"
).properties(
    padding={"left": 3, "top": 0, "right": 4, "bottom": 2}
).configure_view(
    stroke="#b5b5b5", strokeWidth=1
).configure_axis(
    labelFont=SANS, labelFontSize=10.5, labelColor="#808080", ticks=False, domain=False,
    grid=False, titleFont=SERIF, titleFontSize=17, titleFontWeight="normal",
    titleColor="black"
)

chart.save("out.html", embed_options={"renderer": "svg", "actions": False})
